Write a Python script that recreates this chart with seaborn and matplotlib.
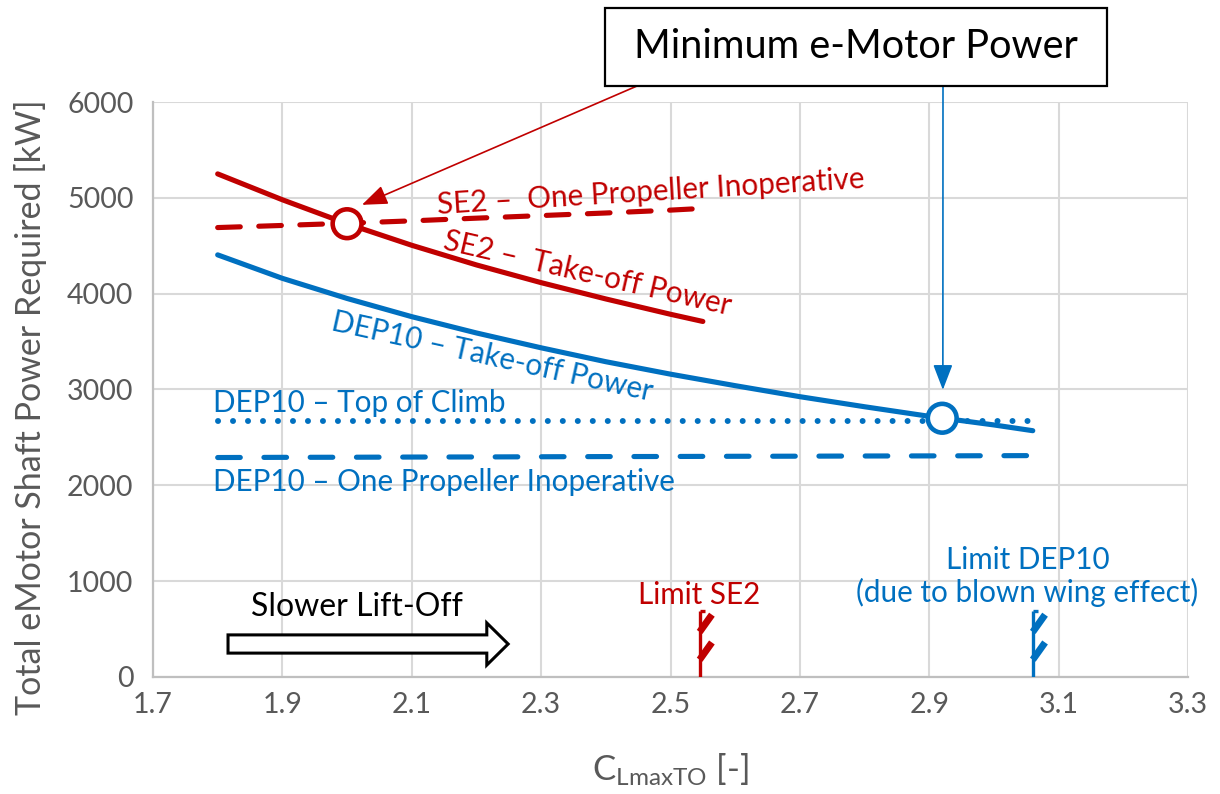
import matplotlib
matplotlib.use("Agg")
import matplotlib.pyplot as plt
from matplotlib.patches import Rectangle, FancyArrow
import seaborn as sns
import pandas as pd

# Lift coefficient sweep and shaft power requirement per configuration [kW]
cl_se2 = [1.80, 1.90, 2.00, 2.10, 2.20, 2.30, 2.40, 2.50, 2.55]
p_se2_takeoff = [5250, 4980, 4730, 4505, 4300, 4115, 3945, 3785, 3710]
p_se2_oei = [4690, 4712, 4735, 4760, 4788, 4815, 4842, 4872, 4890]

cl_dep = [1.80, 1.90, 2.00, 2.10, 2.20, 2.30, 2.40, 2.50, 2.60, 2.70, 2.80, 2.90, 3.00, 3.06]
p_dep_takeoff = [4405, 4160, 3950, 3760, 3590, 3435, 3290, 3160, 3040, 2925, 2820, 2720, 2630, 2570]
p_dep_toc = [2675] * len(cl_dep)
p_dep_oei = [2290, 2292, 2293, 2295, 2296, 2298, 2300, 2301, 2303, 2304, 2306, 2307, 2309, 2310]

# Sizing points (minimum e-motor power) and CL limits
min_cl = [2.00, 2.92]
min_power = [4730, 2700]
limit_cl = [2.545, 3.06]

x_ticks = [1.7, 1.9, 2.1, 2.3, 2.5, 2.7, 2.9, 3.1, 3.3]
y_ticks = [0, 1000, 2000, 3000, 4000, 5000, 6000]

RED = "#C00000"
BLUE = "#0070C0"
GREY_TXT = "#595959"

sns.set_theme(style="white")
plt.rcParams["font.family"] = ["Lato", "DejaVu Sans"]
plt.rcParams["mathtext.fontset"] = "custom"
plt.rcParams["mathtext.rm"] = "Lato"

fig = plt.figure(figsize=(12.2, 7.94), dpi=100)
ax = fig.add_axes([0.1254, 0.1474, 0.8484, 0.7241])

se2 = pd.DataFrame({"cl": cl_se2, "to": p_se2_takeoff, "oei": p_se2_oei})
dep = pd.DataFrame({"cl": cl_dep, "to": p_dep_takeoff, "toc": p_dep_toc, "oei": p_dep_oei})

lw = 3.7
sns.lineplot(data=se2, x="cl", y="to", ax=ax, color=RED, lw=lw,
             solid_capstyle="round", zorder=3)
sns.lineplot(data=se2, x="cl", y="oei", ax=ax, color=RED, lw=lw,
             linestyle=(0, (4.4, 3.6)), dash_capstyle="round", zorder=3)
sns.lineplot(data=dep, x="cl", y="to", ax=ax, color=BLUE, lw=lw,
             solid_capstyle="round", zorder=3)
sns.lineplot(data=dep, x="cl", y="toc", ax=ax, color=BLUE, lw=4.3,
             linestyle=(0, (0.01, 2.5)), dash_capstyle="round", zorder=3)
sns.lineplot(data=dep, x="cl", y="oei", ax=ax, color=BLUE, lw=lw,
             linestyle=(0, (4.4, 4.6)), dash_capstyle="round", zorder=3)

sns.scatterplot(x=min_cl, y=min_power, ax=ax, s=430, color="white",
                edgecolor=[RED, BLUE], linewidth=3.3, zorder=5)

# limit markers: vertical bar with two hatch flags
for xl, col in zip(limit_cl, [RED, BLUE]):
    ax.plot([xl, xl], [0, 690], color=col, lw=2.4, zorder=4, solid_capstyle="butt")
    ax.plot([xl, xl + 0.008], [690, 690], color=col, lw=2.4, zorder=4,
            solid_capstyle="butt")
    for y0 in [180, 470]:
        ax.plot([xl, xl + 0.019], [y0, y0 + 180], color=col, lw=5,
                zorder=4, solid_capstyle="butt")

ax.set_xlim(1.7, 3.3)
ax.set_ylim(0, 6000)
ax.set_xticks(x_ticks)
ax.set_yticks(y_ticks)
ax.set_xticklabels([f"{v:.1f}" for v in x_ticks])
ax.set_yticklabels([str(v) for v in y_ticks])
ax.tick_params(axis="both", labelsize=20.5, labelcolor=GREY_TXT, length=0)
ax.tick_params(axis="x", pad=11)
ax.tick_params(axis="y", pad=14)
ax.grid(True, color="#D9D9D9", lw=1.5)
ax.set_axisbelow(True)
for side in ["top", "right"]:
    ax.spines[side].set_visible(False)
for side in ["left", "bottom"]:
    ax.spines[side].set_color("#BFBFBF")
    ax.spines[side].set_linewidth(1.6)

ax.set_xlabel(r"$\mathregular{C_{LmaxTO}}$ [-]", fontsize=25, color=GREY_TXT, labelpad=24)
ax.set_ylabel("Total eMotor Shaft Power Required [kW]", fontsize=24.5, color=GREY_TXT, labelpad=14)
ax.yaxis.set_label_coords(-0.102, 0.47)

fs = 21.3
ax.text(2.47, 5065, "SE2 –  One Propeller Inoperative", color=RED, fontsize=fs,
        rotation=3.5, ha="center", va="center", rotation_mode="anchor")
ax.text(2.372, 4215, "SE2 –  Take-off Power", color=RED, fontsize=fs,
        rotation=-13, ha="center", va="center", rotation_mode="anchor")
ax.text(2.225, 3345, "DEP10 – Take-off Power", color=BLUE, fontsize=fs,
        rotation=-12.5, ha="center", va="center", rotation_mode="anchor")
ax.text(1.793, 2860, "DEP10 – Top of Climb", color=BLUE, fontsize=fs,
        ha="left", va="center")
ax.text(1.793, 2035, "DEP10 – One Propeller Inoperative", color=BLUE, fontsize=fs,
        ha="left", va="center")
ax.text(2.545, 860, "Limit SE2", color=RED, fontsize=fs, ha="center", va="center")
ax.text(3.052, 1225, "Limit DEP10", color=BLUE, fontsize=fs, ha="center",
        va="center", clip_on=False)
ax.text(3.052, 880, "(due to blown wing effect)", color=BLUE, fontsize=fs,
        ha="center", va="center", clip_on=False)
ax.text(2.015, 735, "Slower Lift-Off", color="black", fontsize=23,
        ha="center", va="center")

ax.add_patch(FancyArrow(1.816, 344, 0.433, 0, width=190, head_width=440,
                        head_length=0.033, length_includes_head=True,
                        facecolor="white", edgecolor="black", lw=2.2, zorder=4))

# title box
fig.add_artist(Rectangle((605 / 1220, 1 - 86 / 794), 502 / 1220, 78 / 794,
                         transform=fig.transFigure, facecolor="white",
                         edgecolor="black", lw=1.6))
fig.text(856 / 1220, 1 - 47 / 794, "Minimum e-Motor Power", fontsize=28.5,
         ha="center", va="center", color="black")

ax.annotate("", xy=(2.023, 4927), xycoords="data",
            xytext=(637 / 1220, 1 - 86 / 794), textcoords="figure fraction",
            arrowprops=dict(arrowstyle="-|>,head_length=1.3,head_width=0.5",
                        color=RED, lw=1.2, shrinkA=0, shrinkB=0),
            annotation_clip=False)
ax.annotate("", xy=(2.921, 2996), xycoords="data",
            xytext=(943 / 1220, 1 - 86 / 794), textcoords="figure fraction",
            arrowprops=dict(arrowstyle="-|>,head_length=1.3,head_width=0.5",
                        color=BLUE, lw=1.2, shrinkA=0, shrinkB=0),
            annotation_clip=False)

fig.savefig("out.png", dpi=100, facecolor="white")
